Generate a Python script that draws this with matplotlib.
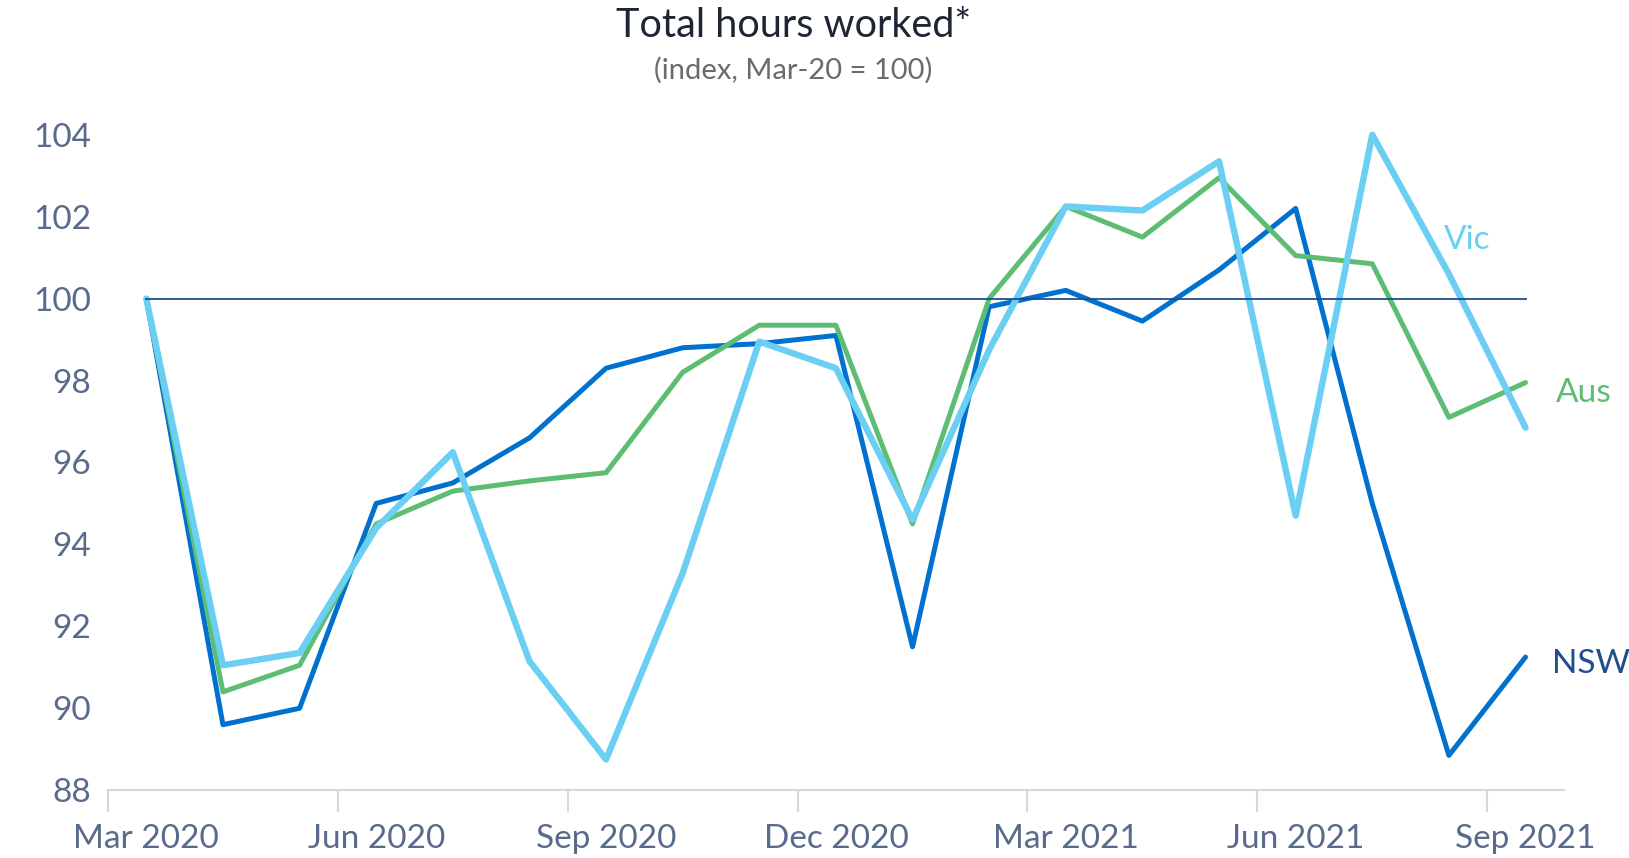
import matplotlib.pyplot as plt
import numpy as np

months = ["Mar 2020", "Apr 2020", "May 2020", "Jun 2020", "Jul 2020", "Aug 2020",
          "Sep 2020", "Oct 2020", "Nov 2020", "Dec 2020", "Jan 2021", "Feb 2021",
          "Mar 2021", "Apr 2021", "May 2021", "Jun 2021", "Jul 2021", "Aug 2021",
          "Sep 2021"]
nsw = [100, 89.6, 90.0, 95.0, 95.5, 96.6, 98.3, 98.8, 98.9, 99.1, 91.5, 99.8,
       100.2, 99.45, 100.7, 102.2, 95.0, 88.85, 91.25]
vic = [100, 91.05, 91.35, 94.4, 96.25, 91.15, 88.75, 93.3, 98.95, 98.3, 94.6, 98.75,
       102.25, 102.15, 103.35, 94.7, 104.0, 100.6, 96.85]
aus = [100, 90.4, 91.05, 94.5, 95.3, 95.55, 95.75, 98.2, 99.35, 99.35, 94.5, 100.0,
       102.25, 101.5, 102.95, 101.05, 100.85, 97.1, 97.95]
yticks = [88, 90, 92, 94, 96, 98, 100, 102, 104]

c_nsw = "#0071CE"
c_vic = "#6ACFF2"
c_aus = "#5DBE73"
c_navy = "#1F4E8C"
c_tick = "#5A6A8C"

plt.rcParams['font.family'] = ['Lato', 'DejaVu Sans']

fig = plt.figure(figsize=(16.29, 8.58), dpi=100)
ax = fig.add_axes([0.0663, 0.079, 0.8937, 0.764])

x = np.arange(len(months))
ax.plot(x, nsw, color=c_nsw, lw=3.6, zorder=2, clip_on=False, solid_capstyle='round')
ax.plot(x, aus, color=c_aus, lw=3.6, zorder=3, clip_on=False, solid_capstyle='round')
ax.plot(x, vic, color=c_vic, lw=4.6, zorder=4, clip_on=False, solid_capstyle='round')
ax.plot([x[0], x[-1]], [100, 100], color=c_navy, lw=1.3, zorder=5)

ax.set_xlim(-0.5, len(months) - 0.5)
ax.set_ylim(88, 104)
ax.set_yticks(yticks)
ax.set_yticklabels([str(v) for v in yticks])

ax.set_xticks(np.arange(-0.5, len(months), 3))
ax.set_xticklabels([])
ax.set_xticks(x[::3], minor=True)
ax.set_xticklabels([months[i] for i in x[::3]], minor=True)
ax.tick_params(axis='x', which='major', length=16, width=1.5, color="#D3D8E3", direction='out')
ax.tick_params(axis='x', which='minor', length=0, pad=24, labelsize=24, labelcolor=c_tick)
ax.tick_params(axis='y', length=0, pad=12, labelsize=24, labelcolor=c_tick)

for s in ['top', 'right', 'left']:
    ax.spines[s].set_visible(False)
ax.spines['bottom'].set_color("#D3D8E3")
ax.spines['bottom'].set_linewidth(1.5)

ax.text(16.93, 101.44, "Vic", color=c_vic, fontsize=24, va='center', ha='left')
ax.text(18.39, 97.69, "Aus", color=c_aus, fontsize=24, va='center', ha='left')
ax.text(18.34, 91.08, "NSW", color=c_navy, fontsize=24, va='center', ha='left')

fig.text(0.487, 0.970, "Total hours worked*", ha='center', va='center', fontsize=28.5, color="#1F2633")
fig.text(0.487, 0.918, "(index, Mar-20 = 100)", ha='center', va='center', fontsize=21, color="#6B6B6B")

fig.savefig("out.png", dpi=100)
